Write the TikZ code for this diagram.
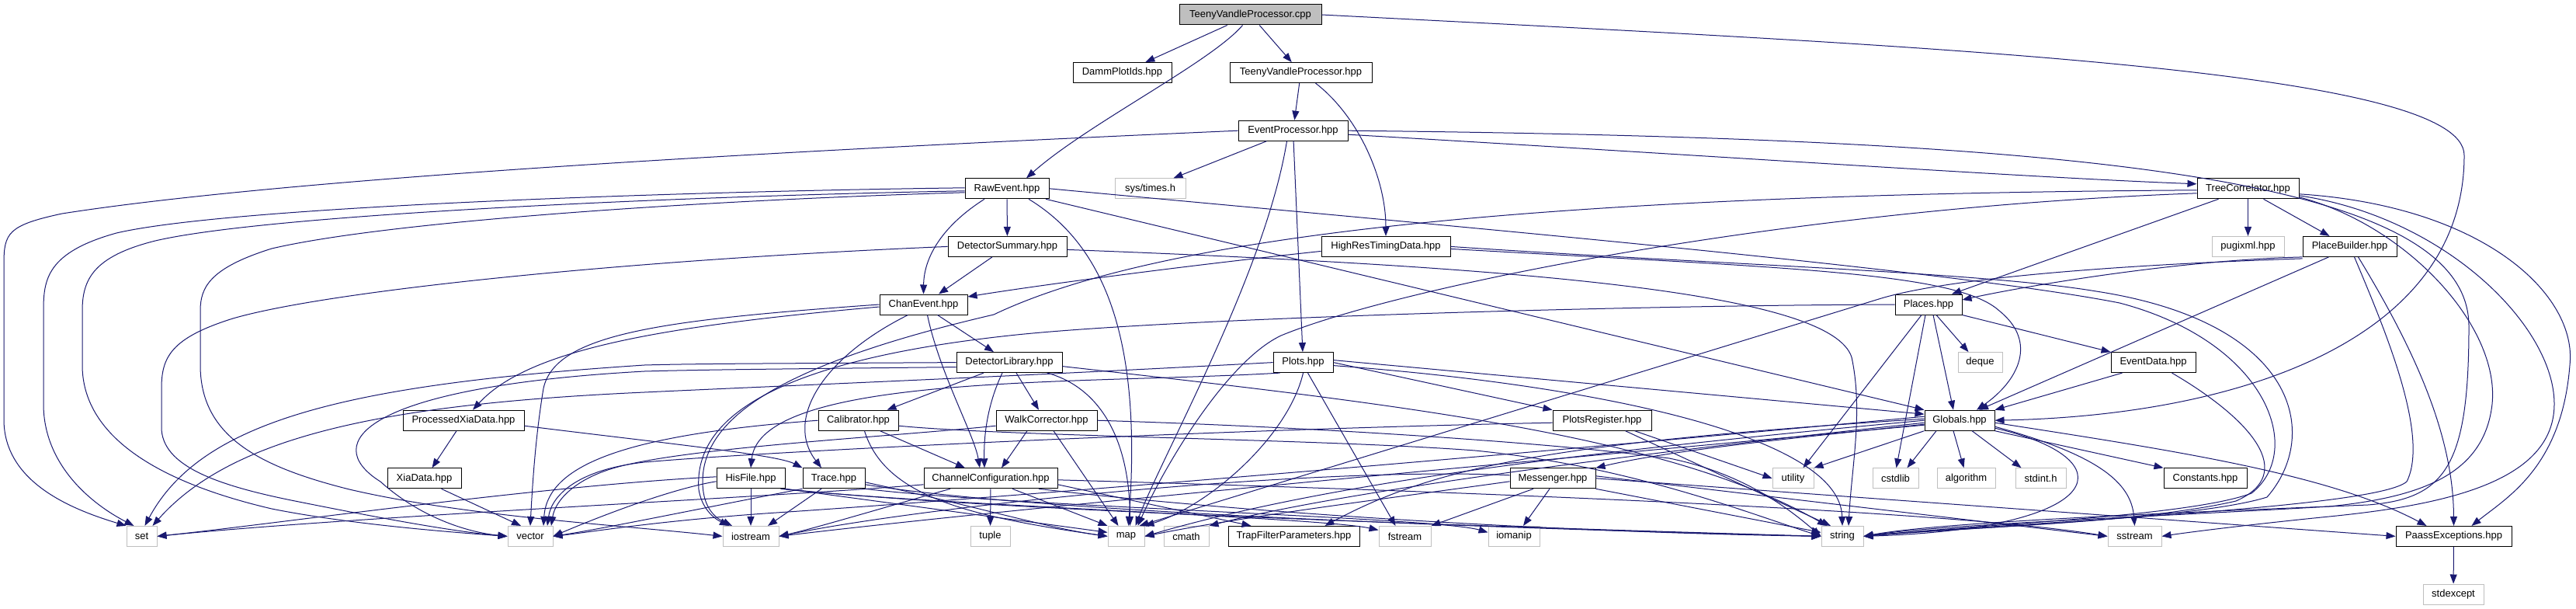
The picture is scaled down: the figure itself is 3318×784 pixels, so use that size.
\documentclass[tikz,border=0pt]{standalone}
\usepackage{fontspec}
\setmainfont{Liberation Sans}
\usetikzlibrary{arrows.meta}
\definecolor{navyc}{HTML}{191970}
\definecolor{grayb}{HTML}{BFBFBF}
\begin{document}
\begin{tikzpicture}[x=1pt,y=-1pt,
  nd/.style={draw=black, line width=1pt, fill=white, minimum height=26pt, inner sep=0pt, font=\fontsize{13}{15}\selectfont, anchor=center},
  sysn/.style={nd, draw=grayb},
  topn/.style={nd, fill=grayb},
  e/.style={draw=navyc, line width=1pt, -{Triangle[length=12pt,width=9pt]}}]
\fill[white] (0,0) rectangle (3318,784);
\useasboundingbox (0,0) rectangle (3318,784);
% nodes
\node[topn, minimum width=183pt] (cpp) at (1610.5,19) {TeenyVandleProcessor.cpp};
\node[nd, minimum width=127pt] (damm) at (1445.5,93.6) {DammPlotIds.hpp};
\node[nd, minimum width=183pt] (tvph) at (1675.5,93.6) {TeenyVandleProcessor.hpp};
\node[nd, minimum width=141pt] (evp) at (1665.5,168.2) {EventProcessor.hpp};
\node[nd, minimum width=108pt] (raw) at (1297,242.8) {RawEvent.hpp};
\node[sysn, minimum width=91pt] (times) at (1481.5,242.8) {sys/times.h};
\node[nd, minimum width=131pt] (tree) at (2895.5,242.8) {TreeCorrelator.hpp};
\node[nd, minimum width=153pt] (detsum) at (1297.5,317.4) {DetectorSummary.hpp};
\node[nd, minimum width=166pt] (hrtd) at (1785,317.4) {HighResTimingData.hpp};
\node[sysn, minimum width=93pt] (pugi) at (2895.5,317.4) {pugixml.hpp};
\node[nd, minimum width=121pt] (pbuild) at (3026.5,317.4) {PlaceBuilder.hpp};
\node[nd, minimum width=113pt] (chan) at (1189.5,392) {ChanEvent.hpp};
\node[nd, minimum width=86pt] (places) at (2484,392) {Places.hpp};
\node[nd, minimum width=136pt] (detlib) at (1300,466.6) {DetectorLibrary.hpp};
\node[nd, minimum width=77pt] (plots) at (1678.5,466.6) {Plots.hpp};
\node[sysn, minimum width=57pt] (deque) at (2550.5,466.6) {deque};
\node[nd, minimum width=109pt] (evdata) at (2773.5,466.6) {EventData.hpp};
\node[nd, minimum width=156pt] (pxd) at (597,541.2) {ProcessedXiaData.hpp};
\node[nd, minimum width=103pt] (calib) at (1105.5,541.2) {Calibrator.hpp};
\node[nd, minimum width=130pt] (walk) at (1348,541.2) {WalkCorrector.hpp};
\node[nd, minimum width=127pt] (preg) at (2063.5,541.2) {PlotsRegister.hpp};
\node[nd, minimum width=90pt] (glob) at (2524,541.2) {Globals.hpp};
\node[nd, minimum width=95pt] (xia) at (546.5,615.8) {XiaData.hpp};
\node[nd, minimum width=88pt] (hisfile) at (967,615.8) {HisFile.hpp};
\node[nd, minimum width=80pt] (trace) at (1074,615.8) {Trace.hpp};
\node[nd, minimum width=172pt] (chconf) at (1276,615.8) {ChannelConfiguration.hpp};
\node[nd, minimum width=110pt] (msgr) at (2000,615.8) {Messenger.hpp};
\node[sysn, minimum width=53pt] (utility) at (2309.5,615.8) {utility};
\node[sysn, minimum width=59pt] (cstdlib) at (2441.5,615.8) {cstdlib};
\node[sysn, minimum width=75pt] (algo) at (2532.5,615.8) {algorithm};
\node[sysn, minimum width=65pt] (stdint) at (2628.5,615.8) {stdint.h};
\node[nd, minimum width=107pt] (consts) at (2840.5,615.8) {Constants.hpp};
\node[sysn, minimum width=39pt] (set) at (182.5,690.4) {set};
\node[sysn, minimum width=58pt] (vector) at (683,690.4) {vector};
\node[sysn, minimum width=72pt] (iostream) at (967,690.4) {iostream};
\node[sysn, minimum width=51pt] (tuple) at (1275.5,690.4) {tuple};
\node[sysn, minimum width=47pt] (map) at (1450.5,690.4) {map};
\node[sysn, minimum width=58pt] (cmath) at (1528,690.4) {cmath};
\node[nd, minimum width=169pt] (trapf) at (1666.5,690.4) {TrapFilterParameters.hpp};
\node[sysn, minimum width=67pt] (fstream) at (1809.5,690.4) {fstream};
\node[sysn, minimum width=66pt] (iomanip) at (1950,690.4) {iomanip};
\node[sysn, minimum width=54pt] (string) at (2373,690.4) {string};
\node[sysn, minimum width=69pt] (sstream) at (2749.5,690.4) {sstream};
\node[nd, minimum width=149pt] (paass) at (3160.5,690.4) {PaassExceptions.hpp};
\node[sysn, minimum width=78pt] (stdexcept) at (3160,765) {stdexcept};
% cpp
\draw[e] (cpp) -- (damm);
\draw[e] (cpp) -- (tvph);
\draw[e] ([xshift=-10pt]cpp.south) .. controls (1560,80) and (1400,160) .. ([xshift=25pt]raw.north);
\draw[e] (cpp.east) .. controls (2500,60) and (3174,90) .. (3174,200) .. controls (3174,440) and (2880,535) .. (glob.east);
% tvph
\draw[e] (tvph) -- (evp);
\draw[e] ([xshift=19pt]tvph.south) .. controls (1750,150) and (1785,230) .. (hrtd.north);
% evp
\draw[e] (evp.west) .. controls (1100,190) and (400,225) .. (80,275) .. controls (10,290) and (5,300) .. (5,340) -- (5,540) .. controls (5,620) and (90,655) .. (set.north west);
\draw[e] (evp) -- ([xshift=30pt]times.north);
\draw[e] ([yshift=-5pt]evp.east) .. controls (2200,200) and (2600,228) .. ([yshift=6pt]tree.west);
\draw[e] (evp.east) .. controls (2700,178) and (3180,230) .. (3180,420) .. controls (3180,600) and (3150,642) .. (3050,650) .. controls (2800,660) and (2500,672) .. (string.east);
\draw[e] (evp) -- (plots);
\draw[e] ([xshift=-8pt]evp.south) .. controls (1630,350) and (1500,580) .. ([xshift=12pt]map.north);
% raw
\draw[e] ([yshift=1pt]raw.west) .. controls (900,246) and (300,265) .. (150,300) .. controls (60,325) and (56,360) .. (56,400) -- (56,520) .. controls (56,600) and (120,650) .. ([xshift=-10pt]set.north);
\draw[e] ([yshift=-3pt]raw.west) .. controls (900,252) and (350,275) .. (200,310) .. controls (120,330) and (106,360) .. (106,400) -- (106,470) .. controls (106,560) and (200,620) .. (350,655) .. controls (450,675) and (580,685) .. (vector.west);
\draw[e] ([yshift=-5pt]raw.west) .. controls (900,258) and (500,285) .. (350,320) .. controls (270,345) and (258,370) .. (258,400) -- (258,470) .. controls (258,560) and (330,600) .. (450,630) .. controls (600,665) and (800,676) .. (iostream.west);
\draw[e] ([xshift=28pt]raw.south) .. controls (1430,320) and (1470,450) .. ([xshift=3pt]map.north);
\draw[e] (raw) -- (detsum);
\draw[e] ([xshift=-29pt]raw.south) .. controls (1215,290) and (1190,330) .. (chan.north);
\draw[e] ([xshift=50pt]raw.south) -- (glob.north west);
\draw[e] (raw.east) .. controls (1800,285) and (2500,345) .. (2730,390) .. controls (2920,440) and (2970,580) .. (2900,635) .. controls (2820,665) and (2550,675) .. (string.east);
% tree
\draw[e] ([yshift=-2pt]tree.west) .. controls (2000,250) and (1500,300) .. (1280,405) .. controls (1000,470) and (905,540) .. (905,620) .. controls (905,650) and (918,665) .. ([xshift=-24pt]iostream.north);
\draw[e] ([yshift=-6pt]tree.west) .. controls (2300,268) and (1800,370) .. (1650,432) .. controls (1580,465) and (1500,600) .. ([xshift=15pt]map.north);
\draw[e] ([xshift=-38pt]tree.south) -- ([xshift=30pt]places.north);
\draw[e] (tree) -- (pugi);
\draw[e] ([xshift=20pt]tree.south) -- ([xshift=-26pt]pbuild.north);
\draw[e] ([yshift=-7pt]tree.east) .. controls (3200,265) and (3320,380) .. (3310,470) .. controls (3300,600) and (3230,640) .. ([xshift=23pt]paass.north);
\draw[e] ([yshift=-9pt]tree.east) .. controls (3150,280) and (3290,420) .. (3290,520) .. controls (3290,620) and (3150,650) .. (3000,665) .. controls (2900,675) and (2820,685) .. (sstream.east);
\draw[e] ([yshift=-11pt]tree.east) .. controls (3100,290) and (3220,420) .. (3210,520) .. controls (3200,610) and (3120,640) .. (3000,652) .. controls (2800,664) and (2500,675) .. (string.east);
% pbuild
\draw[e] (pbuild.south west) .. controls (2800,335) and (2600,370) .. ([yshift=6pt]places.east);
\draw[e] ([yshift=-2pt]pbuild.south west) .. controls (2700,342) and (2500,360) .. (2420,385) -- ([xshift=17pt]map.north);
\draw[e] ([xshift=-27pt]pbuild.south) -- ([xshift=25pt]glob.north);
\draw[e] ([xshift=6pt]pbuild.south) .. controls (3070,420) and (3130,560) .. (3100,620) .. controls (3060,655) and (2600,672) .. (string.east);
\draw[e] ([xshift=11pt]pbuild.south) .. controls (3110,450) and (3160,560) .. (paass.north);
% places
\draw[e] ([xshift=10pt]places.south) -- ([xshift=-15pt]deque.north);
\draw[e] (places.south east) -- (evdata.north west);
\draw[e] ([xshift=6pt]places.south) -- ([xshift=-8pt]glob.north);
\draw[e] ([xshift=-9pt]places.south) -- ([xshift=13pt]utility.north);
\draw[e] ([xshift=-4pt]places.south) -- ([xshift=1pt]cstdlib.north);
\draw[e] (places.west) .. controls (2100,393) and (1500,410) .. (1300,432) .. controls (950,470) and (895,560) .. (900,630) .. controls (903,650) and (915,665) .. ([xshift=-28pt]iostream.north);
% evdata
\draw[e] ([xshift=-40pt]evdata.south) -- (glob.north east);
\draw[e] ([xshift=24pt]evdata.south) .. controls (2900,540) and (2960,610) .. (2880,645) .. controls (2750,675) and (2500,680) .. (string.east);
% hrtd
\draw[e] ([yshift=-6pt]hrtd.west) .. controls (1500,345) and (1320,370) .. ([yshift=10pt]chan.east);
\draw[e] (hrtd.east) .. controls (2200,340) and (2550,350) .. (2700,375) .. controls (2960,415) and (2990,560) .. (2920,640) .. controls (2830,668) and (2550,678) .. (string.east);
\draw[e] ([yshift=-3pt]hrtd.east) .. controls (2300,345) and (2520,350) .. (2575,400) .. controls (2625,440) and (2600,490) .. ([xshift=22pt]glob.north);
% detsum
\draw[e] (detsum.west) .. controls (800,335) and (420,375) .. (300,410) .. controls (220,435) and (208,460) .. (208,500) -- (208,550) .. controls (208,600) and (280,625) .. (380,645) .. controls (480,665) and (580,684) .. (vector.west);
\draw[e] (detsum) -- (chan);
\draw[e] ([yshift=-4pt]detsum.east) .. controls (2000,345) and (2360,380) .. (2385,460) .. controls (2400,530) and (2385,600) .. ([xshift=8pt]string.north);
% chan
\draw[e] ([xshift=18pt]chan.south) -- ([xshift=-20pt]detlib.north);
\draw[e] ([xshift=5pt]chan.south) .. controls (1210,480) and (1255,560) .. ([xshift=-14pt]chconf.north);
\draw[e] ([xshift=-20pt]chan.south) .. controls (1060,460) and (1010,540) .. ([xshift=-16pt]trace.north);
\draw[e] (chan.west) .. controls (850,412) and (715,430) .. (700,500) .. controls (690,560) and (686,620) .. (vector.north);
\draw[e] ([yshift=-3pt]chan.west) .. controls (850,420) and (680,450) .. ([xshift=12pt]pxd.north);
% detlib
\draw[e] ([xshift=-33pt]detlib.south) -- ([xshift=37pt]calib.north);
\draw[e] ([xshift=-9pt]detlib.south) .. controls (1272,520) and (1267,560) .. ([xshift=-8pt]chconf.north);
\draw[e] ([xshift=9pt]detlib.south) -- ([xshift=-10pt]walk.north);
\draw[e] ([xshift=49pt]detlib.south) .. controls (1420,500) and (1455,570) .. ([xshift=5pt]map.north);
\draw[e] ([yshift=-5pt]detlib.east) .. controls (1800,520) and (2150,560) .. ([xshift=-20pt]string.north);
\draw[e] (detlib.west) .. controls (1000,468) and (900,468) .. (830,470) .. controls (450,495) and (260,540) .. ([xshift=4pt]set.north);
\draw[e] ([yshift=-6pt]detlib.west) .. controls (1000,475) and (900,476) .. (830,478) .. controls (470,498) and (410,570) .. (490,620) .. controls (540,665) and (600,685) .. (vector.west);
% calib
\draw[e] (calib.west) .. controls (800,560) and (705,600) .. ([xshift=17pt]vector.north);
\draw[e] ([xshift=28pt]calib.south) -- ([xshift=-33pt]chconf.north);
\draw[e] ([xshift=8pt]calib.south) .. controls (1140,640) and (1250,665) .. (map.west);
\draw[e] ([yshift=-7pt]calib.east) .. controls (1300,562) and (1700,565) .. (1900,580) .. controls (2100,600) and (2250,660) .. (string.west);
% walk
\draw[e] ([xshift=-25pt]walk.south) -- ([xshift=14pt]chconf.north);
\draw[e] ([xshift=9pt]walk.south) -- ([xshift=-10pt]map.north);
\draw[e] (walk.east) .. controls (1700,550) and (2000,570) .. (2150,590) .. controls (2250,610) and (2310,660) .. (string.west);
\draw[e] ([yshift=-7pt]walk.west) .. controls (1150,562) and (900,575) .. (800,600) .. controls (740,615) and (715,645) .. ([xshift=27pt]vector.north);
% pxd, xia
\draw[e] ([yshift=-7pt]pxd.east) .. controls (850,570) and (1000,585) .. (trace.north west);
\draw[e] ([xshift=-9pt]pxd.south) -- ([xshift=10pt]xia.north);
\draw[e] ([xshift=22pt]xia.south) -- ([xshift=-12pt]vector.north);
% hisfile
\draw[e] (hisfile) -- (iostream);
\draw[e] ([yshift=2pt]hisfile.west) .. controls (700,625) and (350,675) .. (set.east);
\draw[e] ([yshift=-4pt]hisfile.west) .. controls (860,630) and (760,670) .. (vector.east);
\draw[e] (hisfile.south east) -- ([yshift=5pt]map.west);
\draw[e] ([xshift=-3pt]hisfile.south east) .. controls (1300,660) and (2000,680) .. (string.west);
\draw[e] ([xshift=-6pt]hisfile.south east) .. controls (1200,650) and (1700,666) .. ([yshift=8pt]fstream.west);
% trace
\draw[e] ([xshift=-16pt]trace.south) -- ([xshift=22pt]iostream.north);
\draw[e] (trace.south west) .. controls (900,655) and (780,680) .. (vector.east);
\draw[e] ([yshift=-5pt]trace.east) .. controls (1250,650) and (1350,680) .. (map.west);
\draw[e] ([yshift=-8pt]trace.east) .. controls (1350,662) and (2000,682) .. (string.west);
\draw[e] (trace.south east) .. controls (1300,652) and (1850,666) .. ([yshift=5pt]iomanip.west);
% chconf
\draw[e] (chconf) -- (tuple);
\draw[e] ([xshift=-52pt]chconf.south) .. controls (1150,650) and (1050,680) .. (iostream.east);
\draw[e] ([xshift=28pt]chconf.south) -- (map.north west);
\draw[e] ([xshift=62pt]chconf.south) .. controls (1600,660) and (2000,685) .. (string.west);
\draw[e] ([yshift=-2pt]chconf.east) .. controls (1800,630) and (2500,655) .. (sstream.west);
\draw[e] ([yshift=-8pt]chconf.east) -- ([xshift=-55pt]trapf.north);
\draw[e] ([yshift=-8pt]chconf.west) .. controls (1000,640) and (450,665) .. (set.east);
% plots
\draw[e] ([yshift=3pt]plots.east) -- ([yshift=8pt]glob.west);
\draw[e] (plots.east) -- (preg.north west);
\draw[e] ([yshift=-4pt]plots.east) .. controls (2050,495) and (2370,560) .. (string.north);
\draw[e] ([xshift=6pt]plots.south) -- ([xshift=-12pt]fstream.north);
\draw[e] (plots.south) .. controls (1660,560) and (1560,650) .. (map.north east);
\draw[e] ([xshift=-30pt]plots.south) .. controls (1400,495) and (980,480) .. (hisfile.north);
\draw[e] (plots.west) .. controls (1300,485) and (1000,497) .. (830,505) .. controls (500,520) and (300,560) .. ([xshift=14pt]set.north);
% preg
\draw[e] ([xshift=30pt]preg.south) -- ([xshift=-15pt]string.north);
\draw[e] ([xshift=42pt]preg.south) -- (utility.west);
\draw[e] ([yshift=-3pt]preg.west) .. controls (1600,552) and (1000,580) .. (830,595) .. controls (740,605) and (710,640) .. ([xshift=22pt]vector.north);
% glob
\draw[e] ([yshift=-5pt]glob.west) .. controls (2300,565) and (2150,580) .. (msgr.north east);
\draw[e] (glob.south west) -- (utility.north east);
\draw[e] ([xshift=-30pt]glob.south) -- ([xshift=15pt]cstdlib.north);
\draw[e] ([xshift=-8pt]glob.south) -- ([xshift=-3pt]algo.north);
\draw[e] ([xshift=16pt]glob.south) -- ([xshift=-25pt]stdint.north);
\draw[e] (glob.south east) -- (consts.north west);
\draw[e] ([yshift=-3pt]glob.east) .. controls (2800,580) and (3000,610) .. ([xshift=-35pt]paass.north);
\draw[e] ([yshift=-8pt]glob.east) .. controls (2700,585) and (2745,620) .. (sstream.north);
\draw[e] ([yshift=-10pt]glob.east) .. controls (2740,590) and (2720,680) .. (string.east);
\draw[e] ([yshift=2pt]glob.west) .. controls (2000,570) and (1850,600) .. ([xshift=40pt]trapf.north);
\draw[e] (glob.west) .. controls (2000,585) and (1700,625) .. (map.east);
\draw[e] ([yshift=-3pt]glob.west) .. controls (2000,595) and (1700,640) .. (cmath.north east);
\draw[e] ([yshift=5pt]glob.west) .. controls (1900,590) and (1300,640) .. (1000,660) .. controls (850,670) and (760,685) .. (vector.east);
\draw[e] ([yshift=-6pt]glob.west) .. controls (1900,600) and (1300,655) .. (iostream.east);
% msgr
\draw[e] ([xshift=-25pt]msgr.south) -- (fstream.north east);
\draw[e] ([xshift=-4pt]msgr.south) -- ([xshift=12pt]iomanip.north);
\draw[e] (msgr.south east) -- ([yshift=5pt]string.west);
\draw[e] ([yshift=3pt]msgr.east) -- (sstream.west);
\draw[e] (msgr.east) -- (paass.west);
\draw[e] ([yshift=4pt]msgr.west) .. controls (1700,600) and (1200,650) .. (iostream.east);
\draw[e] ([yshift=-4pt]msgr.west) .. controls (1800,640) and (1600,665) .. (map.east);
% paass
\draw[e] (paass) -- (stdexcept);
\end{tikzpicture}
\end{document}
